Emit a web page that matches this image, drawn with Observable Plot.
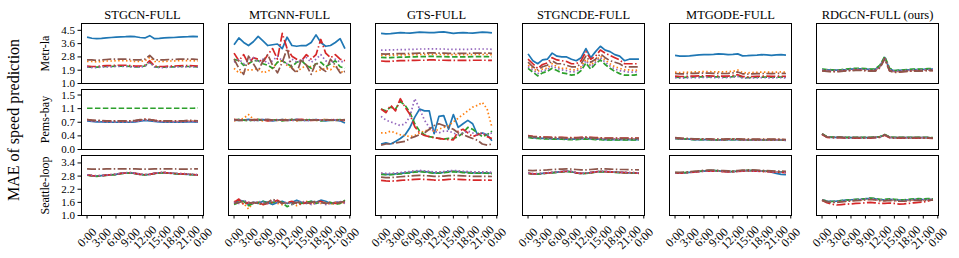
<!DOCTYPE html>
<html><head><meta charset="utf-8">
<script src="https://cdn.jsdelivr.net/npm/d3@7"></script>
<script src="https://cdn.jsdelivr.net/npm/@observablehq/plot@0.6"></script>
<style>
body{margin:0;background:#fff;}
#chart{position:relative;width:959px;height:258px;overflow:hidden;background:#fff;font-family:"Liberation Serif","DejaVu Serif",serif;}
#chart svg{position:absolute;left:0;overflow:visible;background:transparent;}
#ylab{position:absolute;left:14px;top:120px;transform:translate(-50%,-50%) rotate(-90deg);font-size:16px;white-space:nowrap;color:#000;}
</style></head><body>
<div id="chart"><div id="ylab">MAE of speed prediction</div></div>
<script>
const models = ["STGCN-FULL","MTGNN-FULL","GTS-FULL","STGNCDE-FULL","MTGODE-FULL","RDGCN-FULL (ours)"];
const datasets = ["Metr-la","Pems-bay","Seattle-loop"];
const seriesNames = ["A","B","C","D","E","F"];
const seriesColors = ["#1f77b4","#ff7f0e","#2ca02c","#d62728","#9467bd","#8c564b"];
const seriesDash = [null,"1.5,2.4","5.5,2.4","9,2.4,1.5,2.4","1.5,2.4","9,2.4,1.5,2.4"];
const hours = [0,1,2,3,4,5,6,7,8,9,10,11,12,13,14,15,16,17,18,19,20,21,22,23];
const xTicks = [0,3,6,9,12,15,18,21,24];
const xTickLabels = ["0:00","3:00","6:00","9:00","12:00","15:00","18:00","21:00","0:00"];
const yTicksMetr = [1.0,1.875,2.75,3.625,4.5];
const yLabelsMetr = ["1.0","1.9","2.8","3.6","4.5"];
const yDomainMetr = [1.0,4.95];
const yTicksPems = [0,0.37,0.74,1.11,1.48];
const yLabelsPems = ["0.0","0.4","0.7","1.1","1.5"];
const yDomainPems = [0,1.63];
const yTicksSeattle = [1.0,1.6,2.2,2.8,3.4];
const yLabelsSeattle = ["1.0","1.6","2.2","2.8","3.4"];
const yDomainSeattle = [1.0,3.74];

// ---- Metr-la ----
const metrSTGCN = [
 [4.05,3.98,3.95,3.97,4.0,4.03,4.05,4.07,4.08,4.1,4.08,4.03,4.0,4.15,3.95,3.97,4.0,4.02,4.03,4.05,4.07,4.08,4.1,4.08],
 [2.45,2.45,2.42,2.45,2.48,2.48,2.5,2.5,2.5,2.48,2.45,2.45,2.5,2.72,2.45,2.45,2.45,2.48,2.48,2.5,2.5,2.5,2.5,2.48],
 [2.1,2.08,2.08,2.1,2.12,2.12,2.15,2.15,2.15,2.12,2.1,2.1,2.15,2.42,2.1,2.08,2.08,2.1,2.1,2.12,2.12,2.12,2.12,2.1],
 [2.15,2.12,2.12,2.15,2.18,2.18,2.2,2.2,2.2,2.18,2.15,2.15,2.2,2.5,2.15,2.12,2.12,2.15,2.15,2.17,2.18,2.18,2.17,2.15],
 [2.08,2.05,2.05,2.08,2.1,2.1,2.12,2.12,2.12,2.1,2.08,2.08,2.12,2.38,2.08,2.05,2.05,2.08,2.08,2.1,2.1,2.1,2.1,2.08],
 [2.55,2.55,2.52,2.55,2.58,2.6,2.6,2.6,2.6,2.58,2.55,2.55,2.6,2.85,2.55,2.55,2.55,2.58,2.58,2.6,2.6,2.6,2.6,2.58]
];
const metrMTGNN = [
 [3.55,4.0,3.7,3.5,3.75,4.1,3.8,3.5,3.55,3.6,3.3,4.05,3.5,3.45,3.5,3.5,3.7,4.2,3.7,3.45,3.5,3.7,3.95,3.3],
 [2.0,1.7,1.8,1.9,1.9,2.0,1.7,1.8,2.0,2.4,2.5,2.2,2.0,1.8,2.0,2.2,2.1,1.8,1.9,2.0,1.9,2.2,1.8,1.7],
 [2.6,2.5,2.2,2.3,2.5,2.5,2.3,2.2,2.0,2.4,2.5,2.3,2.1,2.4,2.5,2.2,2.0,2.3,2.4,2.1,2.3,2.5,2.1,2.0],
 [3.0,2.5,2.9,2.3,2.7,2.6,2.4,2.9,3.3,2.6,4.3,3.3,2.8,2.6,2.5,2.9,2.6,2.9,3.9,3.0,2.7,2.9,2.6,2.5],
 [2.4,2.6,2.3,2.5,2.7,2.4,2.6,2.3,2.5,2.8,2.5,2.3,2.6,2.4,2.5,2.7,2.4,2.6,2.9,2.5,2.3,2.6,2.4,2.5],
 [2.6,2.0,1.6,2.8,2.3,1.8,2.5,2.9,2.2,1.7,2.4,3.3,2.0,1.7,2.6,2.2,1.6,2.4,2.0,1.8,2.6,2.2,1.7,1.8]
];
const metrGTS = [
 [4.3,4.27,4.28,4.32,4.35,4.33,4.32,4.35,4.38,4.37,4.35,4.35,4.38,4.4,4.35,4.3,4.33,4.35,4.33,4.32,4.35,4.38,4.37,4.33],
 [2.86,2.85,2.86,2.87,2.88,2.88,2.9,2.9,2.91,2.91,2.92,2.92,2.91,2.91,2.9,2.9,2.9,2.9,2.9,2.91,2.91,2.91,2.91,2.9],
 [2.72,2.7,2.7,2.72,2.73,2.73,2.75,2.75,2.77,2.77,2.78,2.78,2.77,2.77,2.75,2.75,2.75,2.75,2.75,2.77,2.77,2.77,2.77,2.75],
 [2.48,2.46,2.46,2.48,2.5,2.5,2.52,2.52,2.53,2.53,2.55,2.55,2.53,2.53,2.52,2.52,2.52,2.52,2.52,2.53,2.53,2.53,2.53,2.52],
 [3.2,3.2,3.22,3.22,3.23,3.23,3.25,3.25,3.27,3.27,3.28,3.28,3.27,3.27,3.25,3.25,3.25,3.25,3.25,3.27,3.27,3.27,3.27,3.25],
 [2.95,2.94,2.95,2.96,2.97,2.97,2.98,2.98,3.0,3.0,3.01,3.01,3.0,3.0,2.98,2.98,2.98,2.98,2.98,3.0,3.0,3.0,3.0,2.98]
];
const metrSTGNCDE = [
 [2.95,2.5,2.3,2.55,2.6,3.0,2.8,2.75,2.75,2.6,2.5,2.7,3.3,2.7,3.1,3.45,3.2,3.1,2.9,2.8,2.5,2.6,2.6,2.6],
 [2.2,2.0,1.8,1.95,2.0,2.3,2.1,2.0,2.0,1.9,1.9,2.1,2.6,2.2,2.5,2.8,2.55,2.3,2.1,2.0,1.9,1.9,1.85,1.9],
 [2.0,1.75,1.5,1.7,1.8,2.0,1.85,1.7,1.65,1.55,1.6,1.85,2.35,1.95,2.3,2.55,2.25,2.0,1.8,1.65,1.55,1.55,1.55,1.6],
 [2.6,2.3,2.0,2.25,2.35,2.7,2.55,2.5,2.45,2.3,2.3,2.5,3.1,2.6,2.8,3.2,3.0,2.85,2.7,2.55,2.3,2.3,2.3,2.3],
 [2.1,1.9,1.65,1.85,1.9,2.15,2.0,1.9,1.85,1.75,1.8,2.0,2.5,2.1,2.4,2.7,2.4,2.15,1.95,1.85,1.8,1.75,1.75,1.8],
 [2.4,2.1,1.9,2.1,2.2,2.5,2.3,2.3,2.2,2.1,2.1,2.3,2.8,2.4,2.6,2.95,2.7,2.5,2.4,2.3,2.1,2.1,2.1,2.1]
];
const metrMTGODE = [
 [2.85,2.8,2.8,2.82,2.85,2.88,2.9,2.9,2.92,2.95,2.93,2.9,2.92,2.95,2.82,2.83,2.85,2.87,2.9,2.88,2.85,2.88,2.9,2.87],
 [1.75,1.72,1.73,1.75,1.76,1.77,1.78,1.78,1.77,1.76,1.76,1.78,1.8,1.88,1.72,1.7,1.72,1.74,1.75,1.75,1.74,1.75,1.76,1.74],
 [1.42,1.4,1.4,1.42,1.43,1.43,1.44,1.44,1.43,1.43,1.42,1.43,1.45,1.5,1.4,1.38,1.4,1.41,1.42,1.42,1.41,1.42,1.42,1.41],
 [1.48,1.46,1.46,1.48,1.49,1.5,1.5,1.5,1.49,1.49,1.48,1.49,1.52,1.58,1.46,1.44,1.46,1.47,1.48,1.48,1.47,1.48,1.48,1.47],
 [1.38,1.36,1.36,1.38,1.39,1.39,1.4,1.4,1.39,1.39,1.38,1.39,1.41,1.46,1.36,1.34,1.36,1.37,1.38,1.38,1.37,1.38,1.38,1.37],
 [1.66,1.64,1.64,1.66,1.67,1.68,1.68,1.68,1.67,1.67,1.66,1.67,1.7,1.76,1.64,1.62,1.64,1.65,1.66,1.66,1.65,1.66,1.67,1.66]
];
const metrRDGCN = [
 [1.92,1.9,1.88,1.88,1.9,1.92,1.95,1.97,1.97,1.95,1.93,1.92,2.15,2.72,1.95,1.83,1.86,1.88,1.9,1.92,1.92,1.93,1.95,1.95],
 [1.88,1.86,1.84,1.84,1.86,1.88,1.9,1.92,1.92,1.9,1.88,1.87,2.1,2.68,1.9,1.78,1.8,1.83,1.85,1.87,1.87,1.88,1.9,1.9],
 [1.95,1.92,1.9,1.9,1.92,1.95,1.98,2.0,2.0,1.98,1.95,1.95,2.2,2.78,2.0,1.85,1.88,1.9,1.92,1.95,1.95,1.95,1.98,1.98],
 [1.85,1.82,1.8,1.8,1.82,1.85,1.87,1.88,1.88,1.86,1.84,1.83,2.05,2.65,1.85,1.75,1.77,1.8,1.82,1.84,1.84,1.85,1.87,1.87],
 [1.9,1.88,1.86,1.86,1.88,1.9,1.92,1.94,1.94,1.92,1.9,1.89,2.12,2.7,1.92,1.8,1.83,1.85,1.87,1.9,1.9,1.9,1.92,1.92],
 [1.83,1.8,1.78,1.78,1.8,1.83,1.85,1.86,1.86,1.84,1.82,1.81,2.02,2.62,1.82,1.72,1.75,1.78,1.8,1.82,1.82,1.83,1.85,1.85]
];
// ---- Pems-bay ----
const pemsSTGCN = [
 [0.78,0.76,0.75,0.75,0.74,0.74,0.74,0.74,0.74,0.74,0.75,0.77,0.79,0.78,0.76,0.75,0.74,0.74,0.74,0.74,0.74,0.75,0.75,0.74],
 [0.8,0.78,0.77,0.77,0.76,0.76,0.76,0.76,0.76,0.76,0.77,0.79,0.81,0.8,0.78,0.77,0.76,0.76,0.76,0.76,0.76,0.77,0.77,0.76],
 [1.12,1.12,1.12,1.12,1.12,1.12,1.12,1.12,1.12,1.12,1.12,1.12,1.12,1.12,1.12,1.12,1.12,1.12,1.12,1.12,1.12,1.12,1.12,1.13],
 [0.81,0.79,0.78,0.78,0.77,0.77,0.77,0.77,0.77,0.77,0.78,0.8,0.82,0.81,0.79,0.78,0.77,0.77,0.77,0.77,0.77,0.78,0.78,0.77],
 [0.79,0.77,0.76,0.76,0.75,0.75,0.75,0.75,0.75,0.75,0.76,0.78,0.8,0.79,0.77,0.76,0.75,0.75,0.75,0.75,0.75,0.76,0.76,0.75],
 [0.81,0.8,0.79,0.79,0.78,0.78,0.78,0.78,0.78,0.78,0.79,0.81,0.82,0.81,0.79,0.78,0.78,0.78,0.78,0.78,0.78,0.79,0.79,0.78]
];
const pemsMTGNN = [
 [0.8,0.79,0.8,0.82,0.8,0.79,0.81,0.8,0.78,0.8,0.81,0.79,0.8,0.82,0.8,0.79,0.8,0.81,0.79,0.78,0.8,0.8,0.78,0.72],
 [0.78,0.8,0.85,0.95,0.82,0.8,0.78,0.8,0.81,0.79,0.8,0.82,0.8,0.78,0.8,0.81,0.8,0.79,0.8,0.82,0.8,0.79,0.8,0.78],
 [0.8,0.82,0.8,0.78,0.8,0.82,0.8,0.79,0.81,0.8,0.78,0.8,0.81,0.8,0.79,0.8,0.82,0.8,0.78,0.8,0.79,0.8,0.81,0.8],
 [0.82,0.8,0.79,0.81,0.8,0.82,0.8,0.78,0.8,0.81,0.8,0.79,0.8,0.81,0.82,0.8,0.79,0.8,0.81,0.8,0.8,0.82,0.8,0.79],
 [0.79,0.81,0.8,0.8,0.78,0.8,0.82,0.81,0.79,0.8,0.8,0.81,0.79,0.8,0.8,0.78,0.8,0.81,0.8,0.79,0.81,0.8,0.79,0.8],
 [0.81,0.79,0.8,0.8,0.81,0.79,0.8,0.82,0.8,0.79,0.81,0.8,0.82,0.79,0.8,0.81,0.8,0.8,0.79,0.81,0.8,0.79,0.8,0.81]
];
const pemsGTS = [
 [0.15,0.18,0.15,0.22,0.3,0.4,0.6,0.88,1.1,1.05,1.05,0.43,0.9,0.92,0.55,0.95,0.6,0.7,0.79,0.7,0.4,0.45,0.4,0.24],
 [0.45,0.45,0.5,0.45,0.4,0.38,0.35,0.38,0.45,0.5,0.55,0.5,0.55,0.6,0.65,0.75,0.85,0.95,1.05,1.15,1.2,1.28,1.1,0.6],
 [1.1,1.05,1.15,1.1,1.3,1.2,1.0,0.7,0.5,0.4,0.35,0.33,0.3,0.28,0.3,0.3,0.35,0.45,0.6,0.55,0.45,0.35,0.4,0.5],
 [1.1,1.0,1.2,1.05,1.38,1.15,0.95,0.62,0.45,0.38,0.35,0.32,0.3,0.28,0.27,0.26,0.5,0.55,0.45,0.35,0.4,0.45,0.35,0.3],
 [0.9,0.8,0.75,0.7,0.65,0.7,0.9,1.38,1.1,0.8,0.6,0.5,0.45,0.5,0.5,0.45,0.4,0.45,0.5,0.45,0.4,0.45,0.4,0.45],
 [0.12,0.15,0.15,0.18,0.2,0.22,0.3,0.35,0.4,0.45,0.55,0.65,0.7,0.65,0.6,0.55,0.45,0.4,0.35,0.3,0.25,0.15,0.12,0.15]
];
const pemsSTGNCDE = [
 [0.34,0.32,0.31,0.3,0.3,0.29,0.29,0.29,0.28,0.28,0.28,0.29,0.3,0.29,0.28,0.28,0.27,0.27,0.27,0.27,0.27,0.27,0.27,0.27],
 [0.36,0.34,0.33,0.32,0.32,0.31,0.31,0.31,0.3,0.3,0.3,0.31,0.32,0.31,0.3,0.3,0.29,0.29,0.29,0.29,0.29,0.29,0.29,0.29],
 [0.33,0.31,0.3,0.29,0.29,0.28,0.28,0.28,0.27,0.27,0.27,0.28,0.29,0.28,0.27,0.27,0.26,0.26,0.26,0.26,0.26,0.26,0.26,0.26],
 [0.38,0.36,0.35,0.34,0.34,0.33,0.33,0.33,0.32,0.32,0.32,0.33,0.34,0.33,0.32,0.32,0.31,0.31,0.31,0.31,0.31,0.31,0.31,0.31],
 [0.35,0.33,0.32,0.31,0.31,0.3,0.3,0.3,0.29,0.29,0.29,0.3,0.31,0.3,0.29,0.29,0.28,0.28,0.28,0.28,0.28,0.28,0.28,0.28],
 [0.37,0.35,0.34,0.33,0.33,0.32,0.32,0.32,0.31,0.31,0.31,0.32,0.33,0.32,0.31,0.31,0.3,0.3,0.3,0.3,0.3,0.3,0.3,0.3]
];
const pemsMTGODE = [
 [0.3,0.29,0.28,0.28,0.27,0.27,0.27,0.27,0.26,0.26,0.26,0.27,0.27,0.27,0.26,0.26,0.26,0.26,0.26,0.26,0.26,0.26,0.26,0.25],
 [0.31,0.3,0.29,0.29,0.28,0.28,0.28,0.28,0.27,0.27,0.27,0.28,0.28,0.28,0.27,0.27,0.27,0.27,0.27,0.27,0.27,0.27,0.27,0.26],
 [0.3,0.29,0.28,0.28,0.27,0.27,0.27,0.27,0.26,0.26,0.26,0.27,0.27,0.27,0.26,0.26,0.26,0.26,0.26,0.26,0.26,0.26,0.26,0.25],
 [0.31,0.3,0.29,0.29,0.28,0.28,0.28,0.28,0.27,0.27,0.27,0.28,0.28,0.28,0.27,0.27,0.27,0.27,0.27,0.27,0.27,0.27,0.27,0.26],
 [0.3,0.29,0.28,0.28,0.27,0.27,0.27,0.27,0.26,0.26,0.26,0.27,0.27,0.27,0.26,0.26,0.26,0.26,0.26,0.26,0.26,0.26,0.26,0.25],
 [0.32,0.31,0.3,0.3,0.29,0.29,0.29,0.29,0.28,0.28,0.28,0.29,0.29,0.29,0.28,0.28,0.28,0.28,0.28,0.28,0.28,0.28,0.28,0.27]
];
const pemsRDGCN = [
 [0.42,0.34,0.33,0.33,0.33,0.32,0.32,0.32,0.32,0.32,0.32,0.33,0.34,0.4,0.33,0.32,0.32,0.32,0.32,0.32,0.32,0.32,0.32,0.31],
 [0.42,0.34,0.33,0.33,0.33,0.32,0.32,0.32,0.32,0.32,0.32,0.33,0.34,0.4,0.33,0.32,0.32,0.32,0.32,0.32,0.32,0.32,0.32,0.31],
 [0.43,0.35,0.34,0.34,0.34,0.33,0.33,0.33,0.33,0.33,0.33,0.34,0.35,0.41,0.34,0.33,0.33,0.33,0.33,0.33,0.33,0.33,0.33,0.32],
 [0.41,0.33,0.32,0.32,0.32,0.31,0.31,0.31,0.31,0.31,0.31,0.32,0.33,0.39,0.32,0.31,0.31,0.31,0.31,0.31,0.31,0.31,0.31,0.3],
 [0.42,0.34,0.33,0.33,0.33,0.32,0.32,0.32,0.32,0.32,0.32,0.33,0.34,0.4,0.33,0.32,0.32,0.32,0.32,0.32,0.32,0.32,0.32,0.31],
 [0.42,0.34,0.33,0.33,0.33,0.32,0.32,0.32,0.32,0.32,0.32,0.33,0.34,0.4,0.33,0.32,0.32,0.32,0.32,0.32,0.32,0.32,0.32,0.31]
];
// ---- Seattle-loop ----
const seaSTGCN = [
 [2.85,2.82,2.8,2.82,2.84,2.86,2.88,2.92,2.94,2.95,2.92,2.88,2.86,2.88,2.92,2.95,2.96,2.94,2.92,2.9,2.9,2.88,2.87,2.85],
 [2.86,2.83,2.81,2.83,2.85,2.87,2.89,2.93,2.95,2.96,2.93,2.89,2.87,2.89,2.93,2.96,2.97,2.95,2.93,2.91,2.91,2.89,2.88,2.86],
 [2.84,2.81,2.79,2.81,2.83,2.85,2.87,2.91,2.93,2.94,2.91,2.87,2.85,2.87,2.91,2.94,2.95,2.93,2.91,2.89,2.89,2.87,2.86,2.84],
 [2.85,2.82,2.8,2.82,2.84,2.86,2.88,2.92,2.94,2.95,2.92,2.88,2.86,2.88,2.92,2.95,2.96,2.94,2.92,2.9,2.9,2.88,2.87,2.85],
 [2.86,2.83,2.81,2.83,2.85,2.87,2.89,2.93,2.95,2.96,2.93,2.89,2.87,2.89,2.93,2.96,2.97,2.95,2.93,2.91,2.91,2.89,2.88,2.86],
 [3.13,3.12,3.12,3.12,3.13,3.13,3.13,3.13,3.13,3.13,3.13,3.12,3.12,3.12,3.13,3.13,3.13,3.13,3.13,3.12,3.12,3.12,3.13,3.13]
];
const seaMTGNN = [
 [1.55,1.7,1.65,1.5,1.6,1.55,1.65,1.6,1.5,1.6,1.65,1.55,1.6,1.7,1.6,1.55,1.65,1.6,1.7,1.65,1.55,1.6,1.6,1.65],
 [1.65,1.6,1.55,1.3,1.6,1.55,1.5,1.6,1.65,1.55,1.5,1.6,1.55,1.45,1.6,1.65,1.5,1.6,1.55,1.6,1.5,1.6,1.55,1.6],
 [1.5,1.6,1.65,1.45,1.55,1.6,1.65,1.55,1.6,1.65,1.6,1.4,1.5,1.6,1.55,1.6,1.65,1.55,1.6,1.55,1.6,1.5,1.55,1.7],
 [1.6,1.75,1.5,1.6,1.55,1.6,1.5,1.55,1.6,1.7,1.55,1.6,1.65,1.55,1.5,1.6,1.55,1.6,1.65,1.55,1.6,1.55,1.6,1.6],
 [1.6,1.55,1.7,1.6,1.55,1.65,1.6,1.55,1.7,1.6,1.55,1.6,1.5,1.6,1.65,1.6,1.5,1.55,1.6,1.5,1.55,1.6,1.65,1.55],
 [1.55,1.6,1.65,1.55,1.6,1.55,1.5,1.6,1.75,1.65,1.55,1.6,1.55,1.6,1.6,1.55,1.6,1.65,1.6,1.55,1.6,1.55,1.6,1.65]
];
const seaGTS = [
 [2.9,2.88,2.88,2.9,2.92,2.95,2.97,3.0,3.02,3.0,2.98,2.95,2.95,2.97,3.0,3.02,3.0,2.98,2.97,2.95,2.95,2.95,2.95,2.93],
 [2.92,2.9,2.9,2.92,2.94,2.97,2.99,3.02,3.04,3.02,3.0,2.97,2.97,2.99,3.02,3.04,3.02,3.0,2.99,2.97,2.97,2.97,2.97,2.95],
 [2.88,2.86,2.86,2.88,2.9,2.93,2.95,2.98,3.0,2.98,2.96,2.93,2.93,2.95,2.98,3.0,2.98,2.96,2.95,2.93,2.93,2.93,2.93,2.91],
 [2.6,2.58,2.57,2.58,2.6,2.62,2.63,2.65,2.66,2.65,2.64,2.62,2.62,2.63,2.65,2.66,2.65,2.64,2.63,2.62,2.62,2.62,2.62,2.61],
 [2.94,2.92,2.92,2.94,2.96,2.99,3.01,3.04,3.06,3.04,3.02,2.99,2.99,3.01,3.04,3.06,3.04,3.02,3.01,2.99,2.99,2.99,2.99,2.97],
 [2.75,2.73,2.73,2.75,2.77,2.79,2.8,2.82,2.83,2.82,2.81,2.79,2.79,2.8,2.82,2.83,2.82,2.81,2.8,2.79,2.79,2.79,2.79,2.78]
];
const seaSTGNCDE = [
 [2.93,2.9,2.9,2.92,2.94,2.96,2.98,3.0,3.02,3.0,2.95,2.92,2.93,2.96,2.99,3.01,3.0,2.99,2.98,2.97,2.96,2.95,2.95,2.93],
 [2.94,2.91,2.91,2.93,2.95,2.97,2.99,3.01,3.03,3.01,2.96,2.93,2.94,2.97,3.0,3.02,3.01,3.0,2.99,2.98,2.97,2.96,2.96,2.94],
 [2.92,2.89,2.89,2.91,2.93,2.95,2.97,2.99,3.01,2.99,2.94,2.91,2.92,2.95,2.98,3.0,2.99,2.98,2.97,2.96,2.95,2.94,2.94,2.92],
 [2.93,2.9,2.9,2.92,2.94,2.96,2.98,3.0,3.02,3.0,2.95,2.92,2.93,2.96,2.99,3.01,3.0,2.99,2.98,2.97,2.96,2.95,2.95,2.93],
 [2.94,2.91,2.91,2.93,2.95,2.97,2.99,3.01,3.03,3.01,2.96,2.93,2.94,2.97,3.0,3.02,3.01,3.0,2.99,2.98,2.97,2.96,2.96,2.94],
 [3.06,3.05,3.06,3.07,3.08,3.1,3.11,3.12,3.13,3.12,3.1,3.08,3.08,3.1,3.12,3.13,3.13,3.12,3.11,3.1,3.1,3.09,3.09,3.08]
];
const seaMTGODE = [
 [2.95,2.94,2.95,2.97,2.99,3.01,3.03,3.05,3.05,3.04,3.02,3.0,3.0,3.02,3.04,3.05,3.05,3.04,3.03,3.02,2.98,2.92,2.88,2.86],
 [2.95,2.94,2.95,2.97,2.99,3.01,3.03,3.04,3.04,3.03,3.01,3.0,3.0,3.02,3.04,3.05,3.04,3.03,3.02,3.01,3.0,2.99,2.98,2.97],
 [2.96,2.95,2.96,2.98,3.0,3.02,3.04,3.05,3.05,3.04,3.02,3.01,3.01,3.03,3.05,3.06,3.05,3.04,3.03,3.02,3.01,3.0,2.99,2.98],
 [2.94,2.93,2.94,2.96,2.98,3.0,3.02,3.03,3.03,3.02,3.0,2.99,2.99,3.01,3.03,3.04,3.03,3.02,3.01,3.0,2.99,2.98,2.97,2.96],
 [2.95,2.94,2.95,2.97,2.99,3.01,3.03,3.04,3.04,3.03,3.01,3.0,3.0,3.02,3.04,3.05,3.04,3.03,3.02,3.01,3.0,2.99,2.98,2.97],
 [2.97,2.97,2.98,3.0,3.02,3.04,3.06,3.07,3.07,3.06,3.05,3.04,3.04,3.05,3.07,3.08,3.08,3.07,3.06,3.05,3.04,3.03,3.03,3.02]
];
const seaRDGCN = [
 [1.72,1.66,1.65,1.66,1.68,1.7,1.72,1.73,1.74,1.76,1.78,1.76,1.72,1.72,1.74,1.72,1.7,1.7,1.72,1.74,1.74,1.73,1.74,1.74],
 [1.7,1.64,1.62,1.62,1.64,1.66,1.68,1.7,1.71,1.73,1.75,1.73,1.69,1.69,1.71,1.69,1.67,1.67,1.69,1.71,1.71,1.7,1.72,1.73],
 [1.72,1.66,1.64,1.65,1.68,1.7,1.72,1.74,1.75,1.77,1.8,1.78,1.74,1.74,1.76,1.74,1.72,1.72,1.74,1.76,1.77,1.76,1.77,1.76],
 [1.7,1.58,1.52,1.48,1.5,1.52,1.53,1.55,1.56,1.58,1.6,1.58,1.55,1.55,1.57,1.55,1.52,1.53,1.55,1.58,1.6,1.62,1.66,1.72],
 [1.71,1.65,1.63,1.64,1.66,1.68,1.7,1.72,1.73,1.75,1.77,1.75,1.71,1.71,1.73,1.71,1.69,1.69,1.71,1.73,1.73,1.72,1.73,1.73],
 [1.69,1.62,1.6,1.6,1.62,1.64,1.66,1.68,1.69,1.71,1.73,1.71,1.67,1.67,1.69,1.67,1.65,1.65,1.67,1.69,1.69,1.68,1.7,1.7]
];

const rowPanels = [
  [metrSTGCN, metrMTGNN, metrGTS, metrSTGNCDE, metrMTGODE, metrRDGCN],
  [pemsSTGCN, pemsMTGNN, pemsGTS, pemsSTGNCDE, pemsMTGODE, pemsRDGCN],
  [seaSTGCN, seaMTGNN, seaGTS, seaSTGNCDE, seaMTGODE, seaRDGCN]
];
const rowY = [
  {domain: yDomainMetr, ticks: yTicksMetr, labels: yLabelsMetr},
  {domain: yDomainPems, ticks: yTicksPems, labels: yLabelsPems},
  {domain: yDomainSeattle, ticks: yTicksSeattle, labels: yLabelsSeattle}
];
const layout = [
  {top: 0, height: 84, mt: 23, mb: 1},
  {top: 84, height: 66, mt: 5, mb: 1},
  {top: 150, height: 108, mt: 5, mb: 43}
];

const chart = document.getElementById("chart");
rowPanels.forEach((panels, r) => {
  const data = [];
  panels.forEach((panel, mi) => panel.forEach((vals, si) => vals.forEach((v, k) =>
    data.push({model: models[mi], series: seriesNames[si], hour: hours[k], value: v}))));
  const Y = rowY[r], L = layout[r];
  const marks = [];
  seriesNames.forEach((s, si) => marks.push(Plot.line(data.filter(d => d.series === s), {
    fx: "model", x: "hour", y: "value", stroke: seriesColors[si], strokeWidth: 1.7,
    strokeDasharray: seriesDash[si], strokeLinejoin: "round", strokeLinecap: "butt"
  })));
  marks.push(Plot.frame({stroke: "#000", strokeWidth: 1}));
  marks.push(Plot.axisY({ticks: Y.ticks, tickFormat: d => Y.labels[Y.ticks.indexOf(d)], tickSize: 3.5, tickPadding: 3,
    fontSize: 11, label: null}));
  marks.push(Plot.axisY({ticks: [], label: datasets[r], labelAnchor: "center", labelArrow: "none", labelOffset: 41, fontSize: 12}));
  if (r === 0) marks.push(Plot.axisFx({anchor: "top", label: null, tickSize: 0, tickPadding: 5, fontSize: 12.5}));
  if (r === 2) {
    marks.push(Plot.axisX({ticks: xTicks, tickFormat: () => "", tickSize: 3.5, label: null}));
    marks.push(Plot.text(xTicks, {x: d => d, text: (d, i) => xTickLabels[i], frameAnchor: "bottom", rotate: -45,
      dy: 22, textAnchor: "middle", lineAnchor: "middle", fontSize: 12}));
  }
  const svg = Plot.plot({
    width: 959, height: L.height, marginLeft: 81, marginRight: 21, marginTop: L.mt, marginBottom: L.mb,
    style: {fontFamily: '"Liberation Serif", serif', fontSize: "12px", background: "transparent", color: "#000", overflow: "visible"},
    fx: {domain: models, paddingInner: 25/147, paddingOuter: 0, label: null, axis: null},
    x: {domain: [-1.15, 24.15], axis: null},
    y: {domain: Y.domain, axis: null},
    marks
  });
  svg.style.top = L.top + "px";
  chart.appendChild(svg);
});
</script>
</body></html>
